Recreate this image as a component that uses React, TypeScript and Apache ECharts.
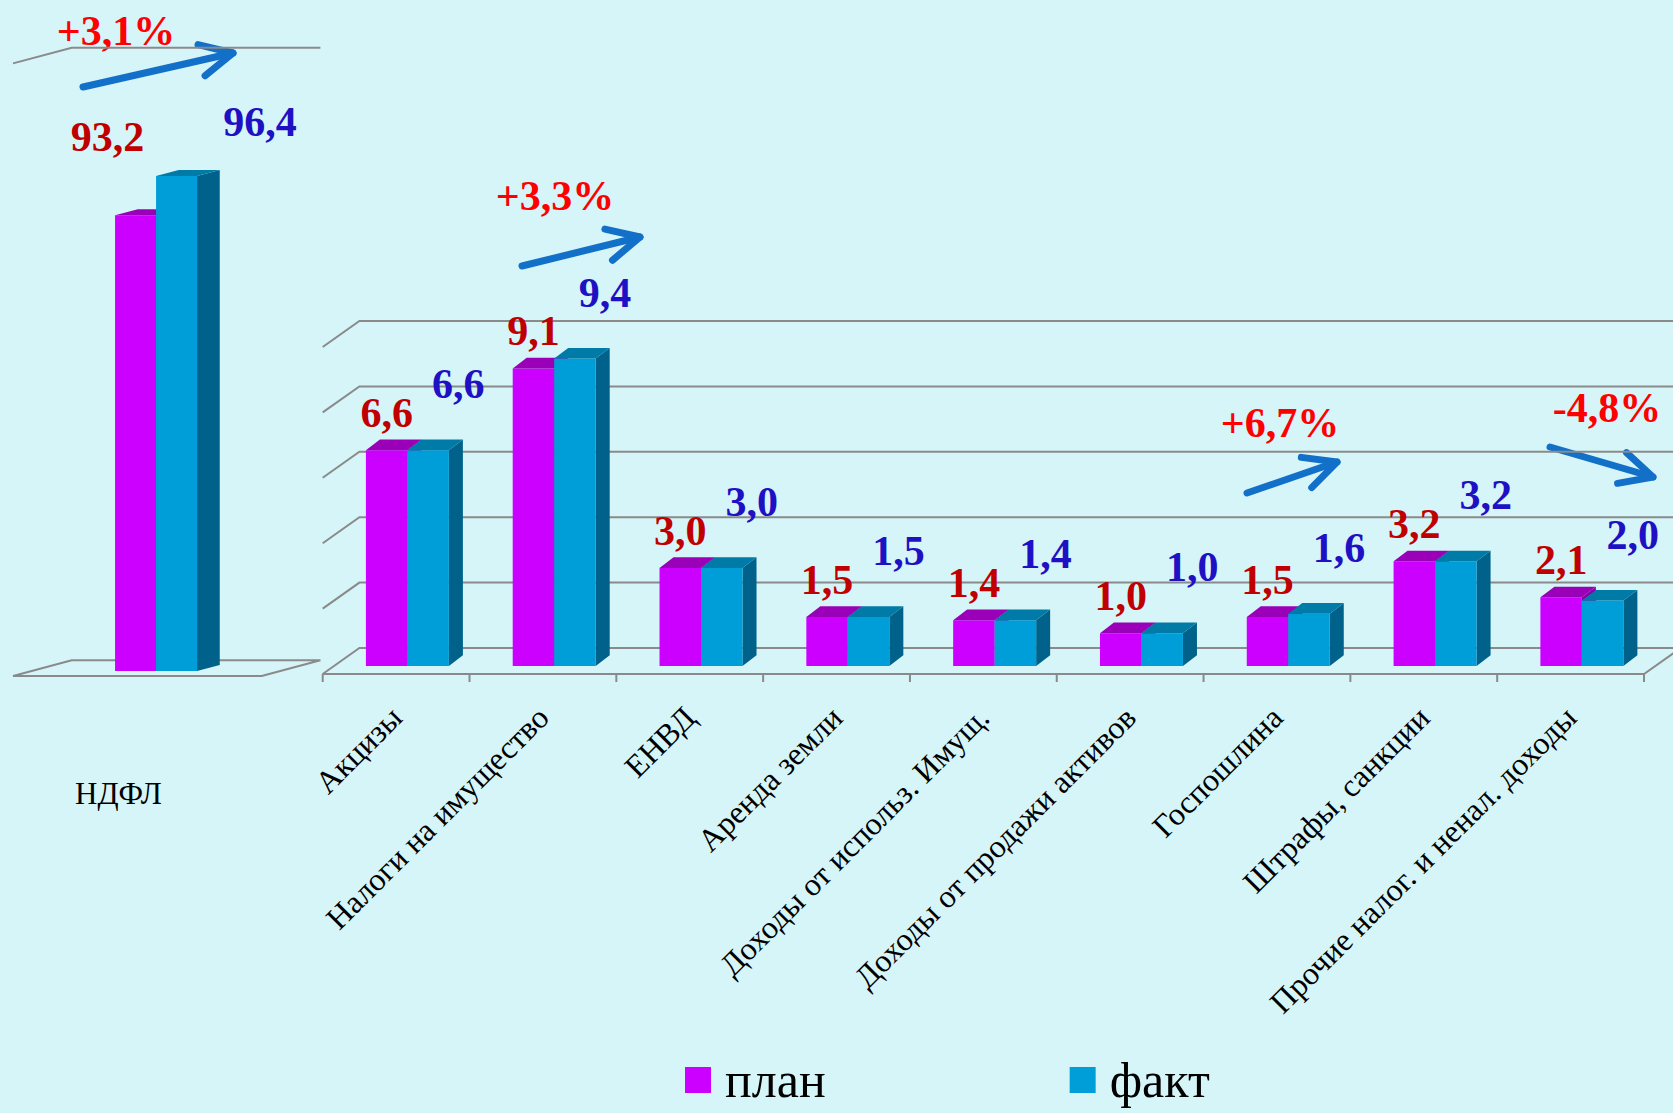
import React, { useEffect, useRef } from 'react';
import * as echarts from 'echarts';

// ---------- data ----------
const leftCategories = ['НДФЛ'];
const leftPlan = [93.2];
const leftFact = [96.4];
const rightCategories = [
  'Акцизы',
  'Налоги на имущество',
  'ЕНВД',
  'Аренда земли',
  'Доходы от использ. Имущ.',
  'Доходы от продажи активов',
  'Госпошлина',
  'Штрафы, санкции',
  'Прочие налог. и ненал. доходы',
];
const rightPlan = [6.6, 9.1, 3.0, 1.5, 1.4, 1.0, 1.5, 3.2, 2.1];
const rightFact = [6.6, 9.4, 3.0, 1.5, 1.4, 1.0, 1.6, 3.2, 2.0];
const rightGridValues = [0, 2, 4, 6, 8, 10];
const leftGridValues = [56, 106];
const changeLabels = ['+3,1%', '+3,3%', '+6,7%', '-4,8%'];
const legendNames = ['план', 'факт'];

// ---------- styles / layout ----------
const SERIF = '"Times New Roman", "Liberation Serif", serif';
const BG = '#d6f5f9';
const GRID_LINE = '#8a8a8a';
const ARROW = '#1370c8';
const planColors = { front: '#cc00ff', top: '#9900b8', side: '#8a00a8', label: '#c00000' };
const factColors = { front: '#009ed8', top: '#007aa6', side: '#00628a', label: '#2010c4' };
const VALUE_FONT = 42;

const leftCfg = {
  min: leftGridValues[0],
  barW: 41,
  shift: [18.7, -5],
  depth: [22.7, -6],
  wallDepth: [58.7, -15.7],
  planLabel: [-28, -78],
  factLabel: [83.5, -54],
};
const rightCfg = {
  min: rightGridValues[0],
  barW: 41.5,
  shift: [11.3, -8],
  depth: [14, -10.7],
  wallDepth: [36.7, -26],
  planLabel: [0, -37],
  factLabel: [30, -66],
};

const fmt = (v: number) => v.toFixed(1).replace('.', ',');

function barRenderer(kind: 'plan' | 'fact', cfg: any) {
  return (params: any, api: any) => {
    const i = api.value(0);
    const v = api.value(1);
    const p = api.coord([i, v]);
    const b = api.coord([i, cfg.min]);
    const [sx, sy] = cfg.shift;
    const [dx, dy] = cfg.depth;
    const w = cfg.barW;
    const x0 = (kind === 'plan' ? p[0] - w : p[0]) + sx;
    const x1 = x0 + w;
    const yt = p[1] + sy;
    const yb = b[1] + sy;
    const c = kind === 'plan' ? planColors : factColors;
    const lab = kind === 'plan' ? cfg.planLabel : cfg.factLabel;
    return {
      type: 'group',
      children: [
        {
          type: 'polygon',
          shape: { points: [[x1, yt], [x1 + dx, yt + dy], [x1 + dx, yb + dy], [x1, yb]] },
          style: { fill: c.side },
        },
        {
          type: 'rect',
          shape: { x: x0, y: yt, width: w, height: yb - yt },
          style: { fill: c.front },
        },
        {
          type: 'polygon',
          shape: { points: [[x0, yt], [x1, yt], [x1 + dx, yt + dy], [x0 + dx, yt + dy]] },
          style: { fill: c.top },
        },
        {
          type: 'text',
          x: x0 + w / 2 + lab[0],
          y: yt + lab[1],
          z2: 50,
          style: {
            text: fmt(v),
            fill: c.label,
            fontFamily: SERIF,
            fontWeight: 'bold',
            fontSize: VALUE_FONT,
            align: 'center',
            verticalAlign: 'middle',
          },
        },
      ],
    };
  };
}

function rightFrameRenderer(params: any, api: any) {
  const n = rightCategories.length;
  const band = api.size([1, 0])[0];
  const L = api.coord([0, 0])[0] - band / 2;
  const R = api.coord([n - 1, 0])[0] + band / 2;
  const [DX, DY] = rightCfg.wallDepth;
  const y0 = api.coord([0, rightGridValues[0]])[1];
  const st = { stroke: GRID_LINE, lineWidth: 2, fill: null };
  const children: any[] = [];
  rightGridValues.forEach((g) => {
    const y = api.coord([0, g])[1];
    children.push({ type: 'polyline', shape: { points: [[L, y], [L + DX, y + DY], [1700, y + DY]] }, style: st });
  });
  children.push({ type: 'polyline', shape: { points: [[L, y0], [R, y0], [R + DX, y0 + DY]] }, style: st });
  for (let k = 0; k <= n; k++) {
    const x = L + k * band;
    children.push({ type: 'line', shape: { x1: x, y1: y0, x2: x, y2: y0 + 8 }, style: st });
  }
  return { type: 'group', children };
}

function leftFrameRenderer(params: any, api: any) {
  const band = api.size([1, 0])[0];
  const L = api.coord([0, 0])[0] - band / 2;
  const R = L + band;
  const [DX, DY] = leftCfg.wallDepth;
  const y0 = api.coord([0, leftGridValues[0]])[1];
  const yT = api.coord([0, leftGridValues[1]])[1];
  const st = { stroke: GRID_LINE, lineWidth: 2, fill: null };
  return {
    type: 'group',
    children: [
      { type: 'polygon', shape: { points: [[L, y0], [R, y0], [R + DX, y0 + DY], [L + DX, y0 + DY]] }, style: st },
      { type: 'polyline', shape: { points: [[L, yT], [L + DX, yT + DY], [R + DX, yT + DY]] }, style: st },
    ],
  };
}

function arrow(x1: number, y1: number, x2: number, y2: number) {
  const ang = Math.atan2(y2 - y1, x2 - x1);
  const Lw = 36;
  const a = 0.46;
  const w1 = [x2 - Lw * Math.cos(ang - a), y2 - Lw * Math.sin(ang - a)];
  const w2 = [x2 - Lw * Math.cos(ang + a), y2 - Lw * Math.sin(ang + a)];
  const st = { stroke: ARROW, lineWidth: 7, lineCap: 'round', lineJoin: 'round', fill: null };
  return [
    { type: 'polyline', shape: { points: [[x1, y1], [x2, y2]] }, style: st },
    { type: 'polyline', shape: { points: [w1, [x2, y2], w2] }, style: st },
  ];
}

const annotationPos = [
  { text: [116, 45], arrow: [83, 87, 233, 53] },
  { text: [555, 210], arrow: [522, 266, 640, 237] },
  { text: [1280, 437], arrow: [1247, 493, 1337, 462] },
  { text: [1607, 422], arrow: [1550, 447, 1653, 477] },
];

export default function App() {
  const ref = useRef<HTMLDivElement>(null);
  useEffect(() => {
    if (!ref.current) return;
    const chart = echarts.init(ref.current, undefined, { renderer: 'svg' });
    const graphics: any[] = [];
    annotationPos.forEach((a, i) => {
      graphics.push({
        type: 'text',
        x: a.text[0],
        y: a.text[1] - 14,
        style: {
          text: changeLabels[i],
          fill: '#ff0000',
          fontFamily: SERIF,
          fontWeight: 'bold',
          fontSize: 42,
          align: 'center',
          verticalAlign: 'middle',
        },
      });
      graphics.push(...arrow(a.arrow[0], a.arrow[1], a.arrow[2], a.arrow[3]));
    });

    chart.setOption({
      animation: false,
      backgroundColor: BG,
      legend: {
        data: legendNames,
        left: 680,
        top: 1050,
        itemWidth: 26,
        itemHeight: 26,
        itemGap: 244,
        icon: 'rect',
        textStyle: { fontFamily: SERIF, fontSize: 50, color: '#000', padding: [0, 0, 0, 9], lineHeight: 50 },
      },
      grid: [
        { left: 13, top: 63.4, width: 248.7, height: 612.6 },
        { left: 322.7, top: 347, width: 1321.3, height: 327 },
      ],
      xAxis: [
        {
          type: 'category',
          gridIndex: 0,
          data: leftCategories,
          axisLine: { show: false },
          axisTick: { show: false },
          axisLabel: {
            margin: 102,
            fontFamily: SERIF,
            fontSize: 31,
            color: '#000',
            padding: [0, 38, 0, 0],
          },
        },
        {
          type: 'category',
          gridIndex: 1,
          data: rightCategories,
          axisLine: { show: false },
          axisTick: { show: false },
          axisLabel: {
            interval: 0,
            rotate: 45,
            margin: 38,
            fontFamily: SERIF,
            fontSize: 32,
            color: '#000',
          },
        },
      ],
      yAxis: [
        { type: 'value', gridIndex: 0, min: leftGridValues[0], max: leftGridValues[1], show: false },
        { type: 'value', gridIndex: 1, min: rightGridValues[0], max: rightGridValues[rightGridValues.length - 1], interval: 2, show: false },
      ],
      series: [
        {
          type: 'custom',
          name: 'frameL',
          xAxisIndex: 0,
          yAxisIndex: 0,
          z: 1,
          data: [[0, leftGridValues[0]]],
          renderItem: leftFrameRenderer,
        },
        {
          type: 'custom',
          name: 'frameR',
          xAxisIndex: 1,
          yAxisIndex: 1,
          z: 1,
          data: [[0, rightGridValues[0]]],
          renderItem: rightFrameRenderer,
        },
        {
          type: 'custom',
          name: legendNames[0],
          xAxisIndex: 0,
          yAxisIndex: 0,
          z: 3,
          itemStyle: { color: planColors.front },
          data: leftPlan.map((v, i) => [i, v]),
          encode: { x: 0, y: 1 },
          renderItem: barRenderer('plan', leftCfg),
        },
        {
          type: 'custom',
          name: legendNames[1],
          xAxisIndex: 0,
          yAxisIndex: 0,
          z: 4,
          itemStyle: { color: factColors.front },
          data: leftFact.map((v, i) => [i, v]),
          encode: { x: 0, y: 1 },
          renderItem: barRenderer('fact', leftCfg),
        },
        {
          type: 'custom',
          name: legendNames[0],
          xAxisIndex: 1,
          yAxisIndex: 1,
          z: 3,
          itemStyle: { color: planColors.front },
          data: rightPlan.map((v, i) => [i, v]),
          encode: { x: 0, y: 1 },
          renderItem: barRenderer('plan', rightCfg),
        },
        {
          type: 'custom',
          name: legendNames[1],
          xAxisIndex: 1,
          yAxisIndex: 1,
          z: 4,
          itemStyle: { color: factColors.front },
          data: rightFact.map((v, i) => [i, v]),
          encode: { x: 0, y: 1 },
          renderItem: barRenderer('fact', rightCfg),
        },
      ],
      graphic: graphics,
    });
    return () => chart.dispose();
  }, []);
  return (
    <div
      ref={ref}
      style={{ position: 'absolute', left: 0, top: 0, width: 1673, height: 1113 }}
    />
  );
}
